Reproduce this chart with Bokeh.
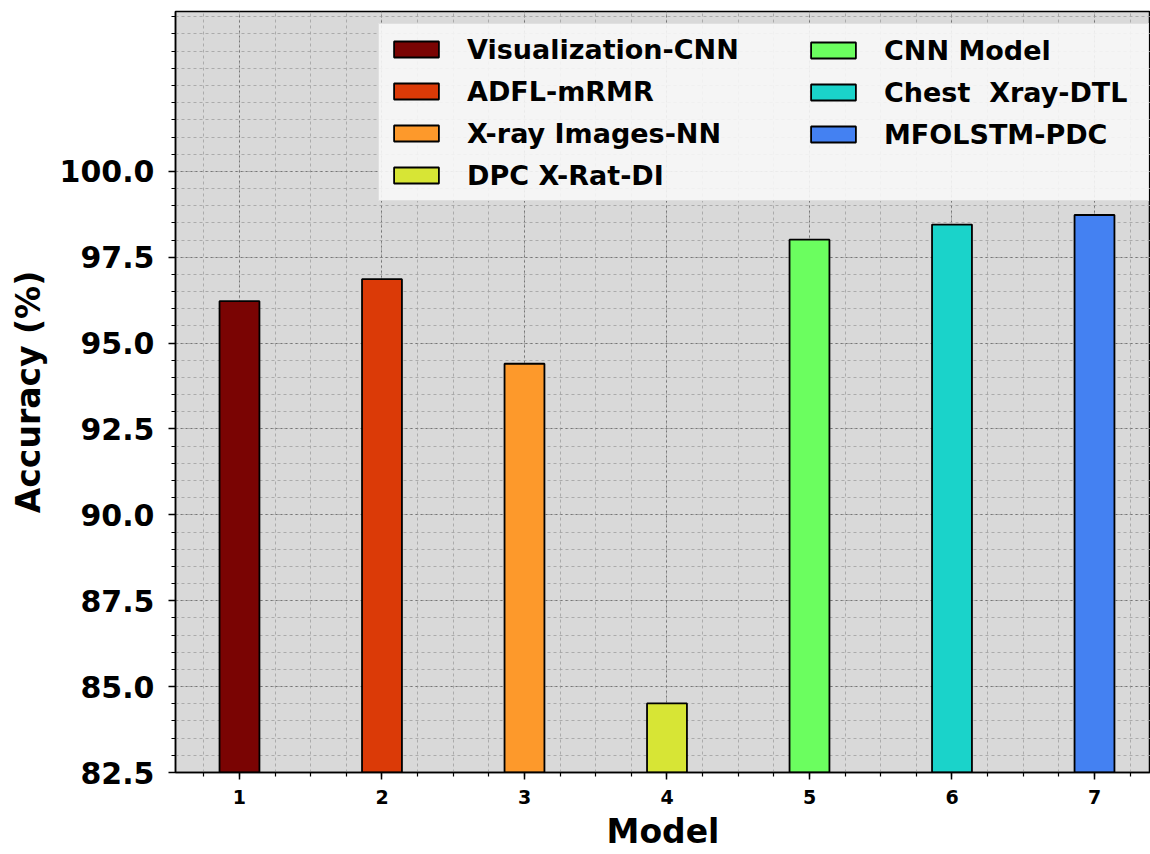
import numpy as np
from bokeh.plotting import figure
from bokeh.models import (ColumnDataSource, Legend, LegendItem, FixedTicker,
                          PrintfTickFormatter, Range1d)
from bokeh.embed import file_html
from bokeh.resources import INLINE

# ---- data ----
models = [1, 2, 3, 4, 5, 6, 7]
names = ["Visualization-CNN", "ADFL-mRMR", "X-ray Images-NN", "DPC X-Rat-DI",
         "CNN Model", "Chest  Xray-DTL", "MFOLSTM-PDC"]
accuracy = [96.22, 96.86, 94.40, 84.51, 98.01, 98.45, 98.73]
colors = ["#7a0403", "#db3a07", "#fd992b", "#d7e535",
          "#6bfe5f", "#1ad3ca", "#4481f2"]
y_tick_values = [82.5, 85.0, 87.5, 90.0, 92.5, 95.0, 97.5, 100.0]

src = ColumnDataSource(dict(x=models, top=accuracy, color=colors, name=names))

FONT = "DejaVu Sans"
W, H = 1150, 854
B_LEFT, B_TOP, B_BOTTOM = 175, 11, 82
frame_h = H - B_TOP - B_BOTTOM

p = figure(width=W, height=H, output_backend="svg", toolbar_location=None,
           x_range=Range1d(0.551, 7.393),
           y_range=Range1d(82.5, max(accuracy) * 1.06),
           min_border_left=B_LEFT, min_border_right=0, min_border_top=B_TOP,
           min_border_bottom=B_BOTTOM)

p.background_fill_color = "#d9d9d9"
p.border_fill_color = "white"
p.outline_line_color = "black"
p.outline_line_width = 1.5

r = p.vbar(x="x", top="top", bottom=0, width=0.28, source=src,
           fill_color="color", line_color="black", line_width=1.8)

# axes
p.xaxis.ticker = FixedTicker(ticks=models,
                             minor_ticks=list(np.arange(0.75, 7.4, 0.25)))
p.yaxis.ticker = FixedTicker(ticks=y_tick_values,
                             minor_ticks=list(np.arange(82.5, 104.6, 0.5)))
p.yaxis.formatter = PrintfTickFormatter(format="%.1f")

for ax in (p.xaxis, p.yaxis):
    ax.axis_line_color = "black"
    ax.axis_line_width = 1.5
    ax.major_tick_in = 0
    ax.minor_tick_in = 0
    ax.major_tick_out = 7
    ax.minor_tick_out = 4
    ax.major_tick_line_color = "black"
    ax.minor_tick_line_color = "black"
    ax.major_tick_line_width = 1.5
    ax.minor_tick_line_width = 1.2
    ax.major_label_text_font = FONT
    ax.major_label_text_font_style = "bold"
    ax.major_label_text_color = "black"
    ax.axis_label_text_font = FONT
    ax.axis_label_text_font_style = "bold"
    ax.axis_label_text_color = "black"
    ax.axis_label_text_font_size = "33px"

p.xaxis.axis_label = "Model"
p.yaxis.axis_label = "Accuracy (%)"
p.xaxis.major_label_text_font_size = "19px"
p.yaxis.major_label_text_font_size = "30px"
p.xaxis.major_label_standoff = 10
p.yaxis.major_label_standoff = 14
p.xaxis.axis_label_standoff = 5
p.yaxis.axis_label_standoff = 9

# grids
for g in (p.xgrid, p.ygrid):
    g.grid_line_color = "#767676"
    g.grid_line_dash = "2 3"
    g.grid_line_width = 1
    g.minor_grid_line_color = "#a0a0a0"
    g.minor_grid_line_dash = "3 3"
    g.minor_grid_line_width = 0.8

# legends (two columns)
glyph_w, glyph_h, lab_h, spc, pad = 56, 20, 32, 10, 9
hA = 2 * pad + 4 * lab_h + 3 * spc
hB = 2 * pad + 3 * lab_h + 2 * spc
top_off = 14

itemsA = [LegendItem(label=names[i], renderers=[r], index=i) for i in range(4)]
itemsB = [LegendItem(label=names[i], renderers=[r], index=i) for i in range(4, 7)]

common = dict(orientation="vertical", glyph_width=glyph_w, glyph_height=glyph_h,
              label_height=lab_h, spacing=spc, padding=pad, margin=0,
              label_standoff=23, label_text_font=FONT,
              label_text_font_style="bold", label_text_font_size="27px",
              label_text_color="black")

legA = Legend(items=itemsA, location=(203, frame_h - top_off - hA),
              background_fill_color="#f7f7f7", background_fill_alpha=0.9,
              border_line_color="#cccccc", border_line_width=1,
              label_width=672, **common)
legB = Legend(items=itemsB, location=(621, frame_h - top_off - hB),
              background_fill_alpha=0, border_line_alpha=0, **common)
p.add_layout(legA)
p.add_layout(legB)

open("out.html", "w").write(file_html(p, INLINE))
